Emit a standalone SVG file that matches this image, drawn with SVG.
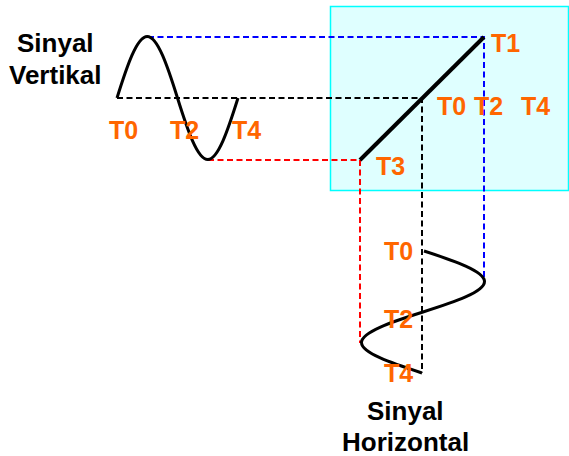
<svg xmlns="http://www.w3.org/2000/svg" width="569" height="456" viewBox="0 0 569 456">
<style>
.lbl{font-family:"Liberation Sans",Arial,sans-serif;font-weight:bold;font-size:25px;fill:#FF6600}
.ttl{font-family:"Liberation Sans",Arial,sans-serif;font-weight:bold;font-size:26px;fill:#000}
.wave{fill:none;stroke:#000;stroke-width:3}
.dash{fill:none;stroke-width:2;stroke-dasharray:6 3.5}
</style>
<rect x="0" y="0" width="569" height="456" fill="#fff"/>
<g id="screen">
<rect x="330.5" y="6.5" width="238" height="184" fill="#DFFFFF" stroke="#00FFFF" stroke-width="1.5"/>
</g>
<g id="connectors">
<path class="dash" stroke="#0000FF" d="M148,37 H484 V281"/>
<path class="dash" stroke="#000000" d="M117,98 H422 V373"/>
<path class="dash" stroke="#FF0000" d="M208,160 H360 V343"/>
</g>
<g id="trace">
<path d="M360,160 L484,37" fill="none" stroke="#000" stroke-width="4"/>
</g>
<g id="vertical-signal">
<path class="wave" d="M117,98 C126.87,66.5 136.85,36.5 147.25,36.5 C157.65,36.5 167.63,66.5 177.5,98 C187.37,129.5 197.35,159.5 207.75,159.5 C218.15,159.5 228.13,129.5 238,98"/>
<text class="ttl" x="17" y="52">Sinyal</text>
<text class="ttl" x="9" y="84">Vertikal</text>
<text class="lbl" x="109" y="139">T0</text>
<text class="lbl" x="170" y="139">T2</text>
<text class="lbl" x="232" y="139">T4</text>
</g>
<g id="screen-labels">
<text class="lbl" x="491" y="52">T1</text>
<text class="lbl" x="437" y="115">T0</text>
<text class="lbl" x="474" y="115">T2</text>
<text class="lbl" x="521" y="115">T4</text>
<text class="lbl" x="376" y="175">T3</text>
</g>
<g id="horizontal-signal">
<path class="wave" d="M424,251 C454.5,260.95 484.5,271 484.5,281.5 C484.5,292 454.5,302.05 423,312 C391.5,321.95 361.5,332 361.5,342.5 C361.5,353 391.5,363.05 422,373"/>
<text class="lbl" x="384" y="260">T0</text>
<text class="lbl" x="384" y="328">T2</text>
<text class="lbl" x="384" y="382">T4</text>
<text class="ttl" x="367" y="420">Sinyal</text>
<text class="ttl" x="342" y="451">Horizontal</text>
</g>
</svg>
